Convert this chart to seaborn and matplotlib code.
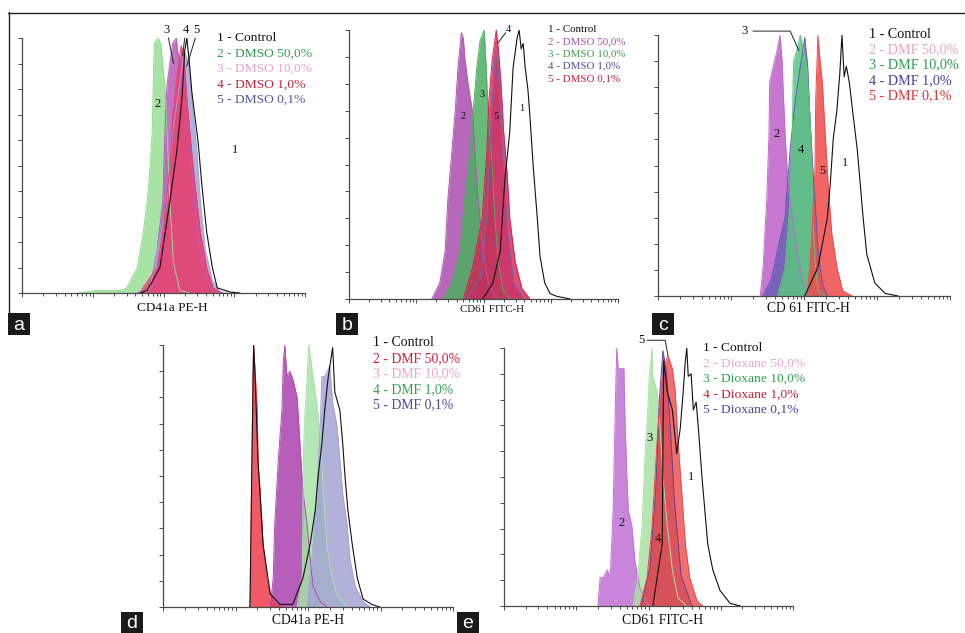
import numpy as np
import matplotlib
matplotlib.use("Agg")
import matplotlib.pyplot as plt
import seaborn as sns
from matplotlib.patches import Rectangle
from matplotlib.lines import Line2D

# histogram outlines: x in log decades (0..4), y in % of max
# panel a - CD41a, DMSO
a1_x = [1.67, 1.77, 1.95, 2.09, 2.19, 2.26, 2.30, 2.33, 2.37, 2.40, 2.49, 2.54, 2.61, 2.69, 2.76, 2.94, 3.08]
a1_y = [0, 1, 10, 36, 56, 76, 95, 100, 89, 79, 59, 43, 24, 10, 2, 0.4, 0]
a2_x = [0.79, 1.03, 1.39, 1.48, 1.63, 1.71, 1.77, 1.81, 1.84, 1.85, 1.86, 1.87, 1.92, 1.96, 1.99, 2.02, 2.05, 2.09, 2.14, 2.23, 2.37]
a2_y = [0, 1, 1, 2, 10, 23, 36, 49, 63, 76, 89, 98, 100, 98, 89, 81, 63, 36, 12, 1, 0]
a3_x = [1.63, 1.81, 1.91, 1.99, 2.02, 2.05, 2.09, 2.13, 2.18, 2.20, 2.26, 2.33, 2.40, 2.47, 2.59, 2.70, 2.83]
a3_y = [0, 2, 17, 36, 63, 82, 90, 98, 100, 95, 87, 76, 49, 24, 6, 1, 0]
a4_x = [1.67, 1.71, 1.91, 1.99, 2.09, 2.13, 2.19, 2.25, 2.29, 2.33, 2.42, 2.52, 2.61, 2.70, 2.83]
a4_y = [0, 2, 10, 24, 49, 69, 85, 97, 93, 76, 49, 24, 10, 2, 0]
a5_x = [1.74, 1.81, 2.05, 2.13, 2.23, 2.28, 2.30, 2.35, 2.40, 2.47, 2.52, 2.59, 2.69, 2.80, 2.91]
a5_y = [0, 2, 36, 63, 82, 92, 94, 91, 76, 56, 36, 17, 5, 0.4, 0]

# panel b - CD61, DMSO
b1_x = [1.99, 2.14, 2.25, 2.29, 2.32, 2.39, 2.44, 2.50, 2.53, 2.56, 2.59, 2.62, 2.66, 2.69, 2.74, 2.80, 2.84, 2.91, 2.99, 3.09, 3.29]
b1_y = [0, 6, 18, 34, 45, 62, 86, 97, 100, 93, 95, 86, 78, 68, 49, 30, 16, 6, 2, 1, 0]
b2_x = [1.23, 1.35, 1.43, 1.47, 1.53, 1.58, 1.62, 1.67, 1.70, 1.72, 1.77, 1.84, 1.87, 1.92, 1.99, 2.07, 2.20]
b2_y = [0, 6, 18, 37, 55, 70, 86, 99, 97, 90, 80, 69, 55, 37, 18, 6, 0]
b3_x = [1.40, 1.53, 1.65, 1.72, 1.80, 1.84, 1.90, 1.95, 2.01, 2.04, 2.07, 2.13, 2.17, 2.22, 2.29, 2.39]
b3_y = [0, 6, 18, 37, 55, 68, 86, 96, 100, 86, 68, 49, 30, 14, 3, 0]
b4_x = [1.75, 1.95, 2.05, 2.12, 2.18, 2.22, 2.28, 2.36, 2.45, 2.60]
b4_y = [0, 8, 30, 70, 92, 85, 55, 25, 6, 0]
b5_x = [1.70, 1.84, 1.98, 2.05, 2.08, 2.13, 2.19, 2.22, 2.26, 2.30, 2.35, 2.39, 2.47, 2.57, 2.69]
b5_y = [0, 12, 30, 55, 74, 89, 100, 93, 80, 62, 47, 30, 14, 4, 0]

# panel c - CD61, DMF
c1_x = [2.01, 2.19, 2.32, 2.36, 2.40, 2.45, 2.49, 2.52, 2.55, 2.58, 2.62, 2.67, 2.73, 2.77, 2.81, 2.86, 2.97, 3.11, 3.29]
c1_y = [0, 11, 30, 43, 60, 71, 85, 100, 84, 88, 82, 70, 56, 43, 30, 16, 5, 1, 0]
c2_x = [1.40, 1.44, 1.49, 1.52, 1.53, 1.58, 1.63, 1.67, 1.70, 1.71, 1.74, 1.78, 1.84, 1.90, 1.97, 2.04, 2.11]
c2_y = [0, 11, 37, 62, 82, 88, 94, 100, 90, 82, 62, 43, 30, 18, 7, 1, 0]
c3_x = [1.64, 1.74, 1.81, 1.84, 1.85, 1.86, 1.90, 1.95, 1.99, 2.04, 2.08, 2.11, 2.12, 2.15, 2.19, 2.29]
c3_y = [0, 11, 37, 62, 82, 90, 94, 100, 94, 88, 69, 49, 30, 14, 2, 0]
c4_x = [1.44, 1.56, 1.64, 1.74, 1.81, 1.88, 1.95, 2.01, 2.05, 2.08, 2.12, 2.15, 2.19, 2.25, 2.32]
c4_y = [0, 7, 18, 30, 56, 75, 88, 99, 88, 69, 49, 37, 18, 5, 0]
c5_x = [2.04, 2.08, 2.12, 2.15, 2.16, 2.18, 2.19, 2.22, 2.25, 2.29, 2.33, 2.38, 2.45, 2.53, 2.66]
c5_y = [0, 11, 30, 49, 75, 91, 100, 90, 82, 62, 43, 24, 11, 2, 0]

# panel d - CD41a, DMF
d1_x = [1.20, 1.23, 1.25, 1.27, 1.31, 1.38, 1.48, 1.61, 1.79, 1.93, 2.03, 2.10, 2.14, 2.19, 2.23, 2.28, 2.34,
        2.37, 2.44, 2.48, 2.51, 2.55, 2.61, 2.68, 2.76, 2.88, 2.99]
d1_y = [0, 62, 100, 88, 56, 24, 5, 1, 1, 11, 24, 37, 50, 62, 75, 88, 99, 82, 75, 62, 50, 37, 24, 11, 3, 1, 0]
d2_x = [1.20, 1.21, 1.23, 1.24, 1.25, 1.27, 1.30, 1.31, 1.34, 1.38, 1.43, 1.48, 1.54, 1.66]
d2_y = [0, 24, 62, 88, 100, 90, 75, 56, 44, 24, 11, 5, 1, 0]
d3_x = [1.48, 1.52, 1.54, 1.59, 1.64, 1.66, 1.68, 1.71, 1.75, 1.79, 1.85, 1.89, 1.93, 1.99, 2.03, 2.07, 2.17, 2.26]
d3_y = [0, 11, 31, 56, 75, 94, 100, 88, 90, 87, 80, 62, 44, 31, 18, 8, 2, 0]
d4_x = [1.85, 1.92, 1.93, 1.94, 1.96, 1.99, 2.01, 2.06, 2.10, 2.14, 2.18, 2.21, 2.26, 2.33, 2.41, 2.54]
d4_y = [0, 11, 37, 62, 75, 88, 100, 90, 82, 73, 62, 44, 24, 11, 4, 0]
d5_x = [1.99, 2.07, 2.12, 2.17, 2.19, 2.23, 2.30, 2.34, 2.40, 2.44, 2.48, 2.54, 2.58, 2.65, 2.76, 2.86]
d5_y = [0, 24, 43, 69, 88, 88, 92, 78, 69, 56, 43, 31, 18, 8, 2, 0]

# panel e - CD61, Dioxane
e1_x = [2.06, 2.19, 2.20, 2.21, 2.26, 2.33, 2.39, 2.44, 2.48, 2.51, 2.53, 2.55, 2.59, 2.62, 2.66, 2.69,
        2.74, 2.78, 2.82, 2.89, 2.99, 3.13, 3.27]
e1_y = [0, 24, 63, 95, 83, 76, 59, 69, 83, 95, 100, 89, 90, 76, 79, 69, 50, 37, 24, 14, 6, 1, 0]
e2_x = [1.30, 1.33, 1.37, 1.43, 1.47, 1.51, 1.54, 1.56, 1.58, 1.63, 1.66, 1.67, 1.70, 1.72, 1.77, 1.81, 1.88, 1.98, 2.06]
e2_y = [0, 11, 11, 14, 11, 37, 76, 100, 92, 92, 92, 76, 50, 37, 31, 18, 7, 1, 0]
e3_x = [1.79, 1.85, 1.91, 1.95, 1.99, 2.01, 2.05, 2.06, 2.12, 2.16, 2.20, 2.26, 2.33, 2.41, 2.53]
e3_y = [0, 11, 31, 57, 76, 89, 100, 89, 83, 69, 50, 31, 14, 3, 0]
e4_x = [1.88, 1.98, 2.05, 2.09, 2.13, 2.19, 2.23, 2.27, 2.33, 2.37, 2.41, 2.46, 2.51, 2.57, 2.67, 2.75]
e4_y = [0, 11, 31, 50, 69, 86, 94, 97, 92, 83, 63, 44, 24, 11, 2, 0]
e5_x = [1.90, 2.02, 2.10, 2.15, 2.20, 2.25, 2.30, 2.36, 2.45, 2.60]
e5_y = [0, 15, 45, 80, 99, 90, 70, 40, 12, 0]

a_legend = ["1 - Control", "2 - DMSO 50,0%", "3 - DMSO 10,0%", "4 - DMSO 1,0%", "5 - DMSO 0,1%"]
b_legend = ["1 - Control", "2 - DMSO 50,0%", "3 - DMSO 10,0%", "4 - DMSO 1,0%", "5 - DMSO 0,1%"]
c_legend = ["1 - Control", "2 - DMF 50,0%", "3 - DMF 10,0%", "4 - DMF 1,0%", "5 - DMF 0,1%"]
d_legend = ["1 - Control", "2 - DMF 50,0%", "3 - DMF 10,0%", "4 - DMF 1,0%", "5 - DMF 0,1%"]
e_legend = ["1 - Control", "2 - Dioxane 50,0%", "3 - Dioxane 10,0%", "4 - Dioxane 1,0%", "5 - Dioxane 0,1%"]

xlabels = ["CD41a PE-H", "CD61 FITC-H", "CD 61 FITC-H", "CD41a PE-H", "CD61 FITC-H"]
letters = ["a", "b", "c", "d", "e"]

sns.set_theme(style="white")
plt.rcParams['font.family'] = ['Liberation Serif', 'DejaVu Serif']

W, H = 965, 633
fig = plt.figure(figsize=(W / 100, H / 100), dpi=100)


def fx(x):
    return x / W


def fy(y):
    return 1 - y / H


def make_ax(l, t, r, b):
    ax = fig.add_axes([fx(l), fy(b), (r - l) / W, (b - t) / H])
    ax.set_xlim(0, 4)
    ax.set_ylim(0, 100)
    ax.patch.set_alpha(0)
    for s in ["top", "right"]:
        ax.spines[s].set_visible(False)
    for s in ["left", "bottom"]:
        ax.spines[s].set_color("#4a4a4a")
        ax.spines[s].set_linewidth(0.9)
    ax.set_yticks(np.arange(0, 101, 10))
    ax.set_xticks(range(5))
    ax.set_xticks([d + np.log10(k) for d in range(4) for k in range(2, 10)], minor=True)
    ax.tick_params(axis="both", which="both", direction="out", bottom=True, left=True,
                   labelleft=False, labelbottom=False, color="#4a4a4a", width=0.7)
    ax.tick_params(which="major", length=3)
    ax.tick_params(which="minor", length=2, left=False)
    ax.grid(False)
    return ax


def fill(ax, xs, ys, color, alpha=0.85):
    ax.fill_between(xs, 0, ys, color=color, alpha=alpha, lw=0, zorder=1)
    ax.plot(xs, ys, color=color, lw=0.7, zorder=1.1)


def control(ax, xs, ys):
    sns.lineplot(x=xs, y=ys, ax=ax, color="#111111", lw=0.8, zorder=3, estimator=None)


def legend(entries, colors, x, y0, dy, fs):
    for i, (t, c) in enumerate(zip(entries, colors)):
        fig.text(fx(x), fy(y0 + i * dy), t, color=c, fontsize=fs, va="center", ha="left")


def num(ax, s, x, y, fs=9):
    ax.text(x, y, s, fontsize=fs, ha="center", va="center", color="#111111", zorder=5, clip_on=False)


def leader(ax, xs, ys):
    ax.plot(xs, ys, color="#222222", lw=0.7, zorder=5, clip_on=False)


# ---- panel a
ax = make_ax(22, 38, 305, 293)
fill(ax, a2_x, a2_y, "#92dc90", 0.8)
fill(ax, a3_x, a3_y, "#b85cb8")
fill(ax, a5_x, a5_y, "#a4a4d8")
fill(ax, a4_x, a4_y, "#ea3c6c")
control(ax, a1_x, a1_y)
num(ax, "1", 3.01, 56)
num(ax, "2", 1.91, 74)
num(ax, "3", 2.04, 103)
num(ax, "4", 2.32, 103)
num(ax, "5", 2.47, 103)
leader(ax, [2.07, 2.14], [100, 90])
leader(ax, [2.30, 2.27], [100, 93])
leader(ax, [2.45, 2.33], [100, 89])
legend(a_legend, ["#111111", "#2e9a4e", "#e2a6c6", "#c4203c", "#5656a6"], 217, 38, 15.5, 9.7)

# ---- panel b
ax = make_ax(349, 30, 618, 299)
fill(ax, b2_x, b2_y, "#b058b4", 0.9)
fill(ax, b3_x, b3_y, "#4cae60")
fill(ax, b4_x, b4_y, "#6a6ab0", 0.6)
fill(ax, b5_x, b5_y, "#d82050", 0.8)
control(ax, b1_x, b1_y)
num(ax, "2", 1.70, 68, 7.5)
num(ax, "3", 1.98, 76, 7.5)
num(ax, "5", 2.19, 68, 7.5)
num(ax, "1", 2.57, 71, 7.5)
num(ax, "4", 2.37, 100, 7.5)
leader(ax, [2.33, 2.21], [99, 95])
legend(b_legend, ["#111111", "#a050a8", "#3a9e52", "#4a4aa0", "#c8203c"], 548, 29, 12.4, 7.9)

# ---- panel c
ax = make_ax(658, 35, 950, 296)
fill(ax, c2_x, c2_y, "#c268cc", 0.9)
fill(ax, c4_x, c4_y, "#5a5ab0", 0.7)
fill(ax, c3_x, c3_y, "#5cc680")
fill(ax, c5_x, c5_y, "#f04a4a")
control(ax, c1_x, c1_y)
num(ax, "2", 1.62, 62)
num(ax, "4", 1.96, 56)
num(ax, "5", 2.25, 48)
num(ax, "1", 2.56, 51)
num(ax, "3", 1.19, 101.5)
leader(ax, [1.30, 1.81, 1.93], [101.5, 101.5, 94])
legend(c_legend, ["#111111", "#eaa6c4", "#2e9e52", "#4444a0", "#e03434"], 869, 34, 15.5, 10.2)

# ---- panel d
ax = make_ax(163, 345, 453, 607)
fill(ax, d3_x, d3_y, "#b04cb4", 0.9)
fill(ax, d4_x, d4_y, "#a8e2a8")
fill(ax, d5_x, d5_y, "#a4a4d4")
fill(ax, d2_x, d2_y, "#f03c4c")
control(ax, d1_x, d1_y)
legend(d_legend, ["#111111", "#d0203c", "#e6a8c8", "#3a9e52", "#4a4aa0"], 373, 343, 15.5, 9.9)

# ---- panel e
ax = make_ax(504, 348, 793, 606)
fill(ax, e2_x, e2_y, "#c070d4")
fill(ax, e3_x, e3_y, "#a8e2a4")
fill(ax, e5_x, e5_y, "#6a4090", 0.7)
fill(ax, e4_x, e4_y, "#ee4a4a", 0.8)
control(ax, e1_x, e1_y)
num(ax, "2", 1.63, 32)
num(ax, "3", 2.02, 65)
num(ax, "4", 2.13, 26)
num(ax, "1", 2.59, 50)
num(ax, "5", 1.90, 103)
leader(ax, [1.98, 2.23, 2.27], [103, 103, 97])
legend(e_legend, ["#111111", "#e6a8c8", "#2e9e52", "#c02030", "#4444a0"], 703, 348, 15.5, 9.7)

# axis titles
for s, (x, y, fs) in zip(xlabels, [(172, 308, 9.5), (492, 310, 7.8), (808, 309, 9.8), (308, 620, 9.8), (663, 620, 10)]):
    fig.text(fx(x), fy(y), s, fontsize=fs, ha="center", va="center", color="#111111")

# panel letters in black boxes
for s, (x, y) in zip(letters, [(8, 313), (336, 313), (652, 313), (121, 612), (457, 612)]):
    fig.add_artist(Rectangle((fx(x), fy(y + 22)), 22 / W, 22 / H, transform=fig.transFigure,
                             facecolor="#1a1a1a", edgecolor="none"))
    fig.text(fx(x + 11), fy(y + 12), s, color="white", fontsize=14, ha="center", va="center",
             family="Liberation Sans")

# outer frame lines (top and left)
fig.add_artist(Line2D([fx(8), 1], [fy(12.5), fy(12.5)], color="#222222", lw=1.0))
fig.add_artist(Line2D([fx(8.5), fx(8.5)], [fy(12), fy(313)], color="#222222", lw=1.0))

fig.savefig("out.png", dpi=100)
